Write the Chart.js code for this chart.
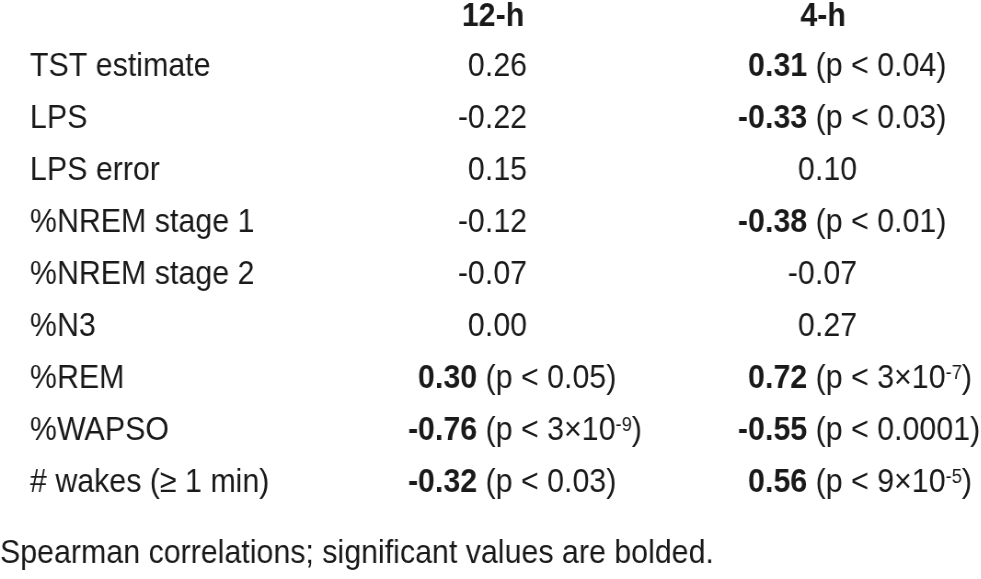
<!DOCTYPE html>
<html>
<head>
<meta charset="utf-8">
<script src="https://cdn.jsdelivr.net/npm/chart.js@4.4.1/dist/chart.umd.min.js"></script>
<style>
  html, body { margin: 0; padding: 0; background: #fff; overflow: hidden; }
  /* Liberation Sans squeezed horizontally to mimic a narrow face */
  #wrap { width: 1074px; height: 579px; transform: scaleX(0.92); transform-origin: 0 0; }
</style>
</head>
<body>
<div id="wrap"><canvas id="myChart"></canvas></div>
<script>
// table content
var rows = ["TST estimate", "LPS", "LPS error", "%NREM stage 1", "%NREM stage 2",
            "%N3", "%REM", "%WAPSO", "# wakes (\u2265 1 min)"];
var cols = ["12-h", "4-h"];

var r12h = [0.26, -0.22, 0.15, -0.12, -0.07, 0.00, 0.30, -0.76, -0.32];
var p12h = [null, null, null, null, null, null, "0.05", "3\u00d710^-9", "0.03"];

var r4h = [0.31, -0.33, 0.10, -0.38, -0.07, 0.27, 0.72, -0.55, 0.56];
var p4h = ["0.04", "0.03", null, "0.01", null, null, "3\u00d710^-7", "0.0001", "9\u00d710^-5"];

var footnote = "Spearman correlations; significant values are bolded.";

var FONT = "'Liberation Sans', Arial, sans-serif";
var SIZE = 33;
var INK = "#1a1a1a";
var SX = 0.92;   // horizontal squeeze of the wrapper

function points(col, vals, ps){
    return vals.map(function(v, i){
        return {x: col, y: rows[i], r: v, p: ps[i]};
    });
}

function fmt(v){
    return v.toFixed(2);
}

var cellText = {
    id: 'cellText',
    afterDatasetsDraw: function(chart){
        var ctx = chart.ctx;
        ctx.save();
        ctx.fillStyle = INK;
        ctx.textBaseline = 'middle';
        var regular = SIZE + "px " + FONT;
        var bold = "bold " + SIZE + "px " + FONT;
        var small = "20px " + FONT;
        chart.data.datasets.forEach(function(ds, d){
            var meta = chart.getDatasetMeta(d);
            meta.data.forEach(function(pt, i){
                var item = ds.data[i];
                var y = pt.y;
                var txt = fmt(item.r);
                if(item.p == null){
                    // plain value, right aligned
                    ctx.font = regular;
                    ctx.textAlign = 'right';
                    ctx.fillText(txt, pt.x + 34 / SX, y);
                    return;
                }
                // significant: bold number, digits start at the anchor
                ctx.textAlign = 'left';
                ctx.font = bold;
                var x = pt.x - 75 / SX;
                if(item.r < 0){
                    x -= ctx.measureText("-").width;
                }
                ctx.fillText(txt, x, y);
                x += ctx.measureText(txt).width;
                ctx.font = regular;
                var parts = item.p.split("^");
                var s = " (p < " + parts[0];
                ctx.fillText(s, x, y);
                x += ctx.measureText(s).width;
                if(parts.length > 1){
                    ctx.font = small;
                    ctx.fillText(parts[1], x, y - 6);
                    x += ctx.measureText(parts[1]).width;
                    ctx.font = regular;
                }
                ctx.fillText(")", x, y);
            });
        });
        // footnote
        ctx.font = regular;
        ctx.textAlign = 'left';
        ctx.textBaseline = 'alphabetic';
        ctx.fillText(footnote, 0, 563);
        ctx.restore();
    }
};

new Chart('myChart', {
    type: 'scatter',
    data: {
        datasets: [
            { label: "12-h", data: points("12-h", r12h, p12h), pointRadius: 0, pointHoverRadius: 0 },
            { label: "4-h", data: points("4-h", r4h, p4h), pointRadius: 0, pointHoverRadius: 0 }
        ]
    },
    options: {
        responsive: true,
        maintainAspectRatio: false,
        animation: false,
        events: [],
        layout: {
            padding: { left: 30 / SX, right: 0, top: 0, bottom: 70 }
        },
        plugins: {
            legend: { display: false },
            tooltip: { enabled: false }
        },
        scales: {
            x: {
                type: 'category',
                labels: cols,
                position: 'top',
                offset: true,
                grid: { display: false },
                border: { display: false },
                ticks: {
                    color: INK,
                    padding: 0,
                    font: { family: FONT, size: SIZE, weight: 'bold', lineHeight: 1 }
                },
                afterFit: function(scale){ scale.height = 41; }
            },
            y: {
                type: 'category',
                labels: rows,
                offset: true,
                grid: { display: false },
                border: { display: false },
                ticks: {
                    color: INK,
                    crossAlign: 'far',
                    font: { family: FONT, size: SIZE }
                },
                afterFit: function(scale){ scale.width = 298 / SX; }
            }
        }
    },
    plugins: [cellText]
});
</script>
</body>
</html>
